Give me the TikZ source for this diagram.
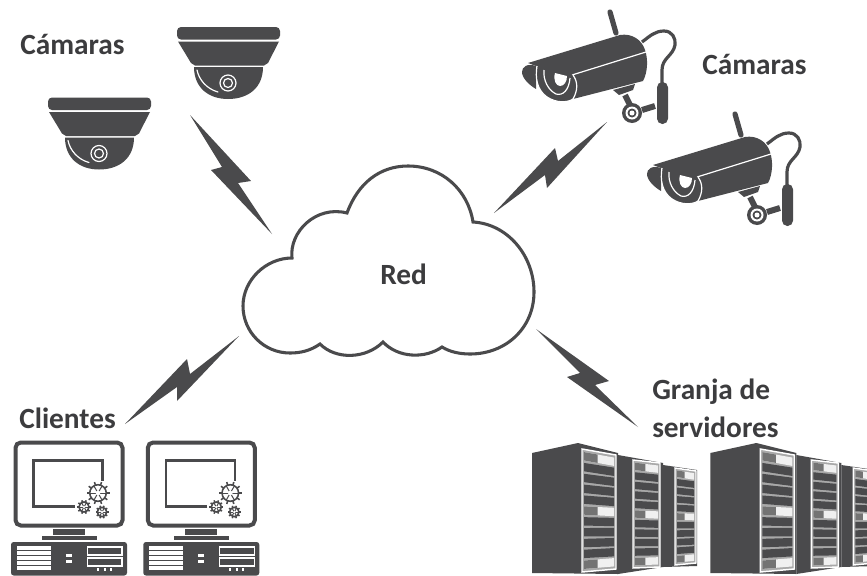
\documentclass[tikz,border=0pt]{standalone}
\usepackage{fontspec}
\setmainfont{Carlito}
\definecolor{ink}{HTML}{4A4A4C}
\definecolor{txt}{HTML}{3C3C3E}
\definecolor{panelgray}{HTML}{A8A8A8}
\newcommand{\gearicon}[3]{%
  \foreach \ga in {0,36,...,324}{\draw[ink,line width=1.15pt] (#1,#2) -- ++(\ga:#3);}
  \draw[ink,fill=white,line width=1.2pt] (#1,#2) circle[radius=0.72*#3];
  \foreach \ga in {0,60,...,300}{\draw[ink,line width=.75pt] (#1,#2) -- ++(\ga:0.72*#3);}
  \fill[white] (#1,#2) circle[radius=0.2*#3];
}
\newcommand{\rackpanel}[6]{%
  \fill[panelgray] (#1,#3) -- (#2,#4) -- (#2,#6) -- (#1,#5) -- cycle;
  \draw[white,line width=1.1pt] (#1,#3) -- (#2,#4) -- (#2,#6) -- (#1,#5) -- cycle;
  \foreach \ri in {0,...,10}{
    \pgfmathsetmacro{\tt}{(\ri+0.5)/11*0.97+0.015}
    \pgfmathsetmacro{\yl}{#3+\tt*(#5-#3)}
    \pgfmathsetmacro{\yr}{#4+\tt*(#6-#4)}
    \pgfmathsetmacro{\hh}{0.034*(#5-#3)}
    \pgfmathsetmacro{\xa}{#1+2}
    \pgfmathsetmacro{\xb}{#2-2}
    \pgfmathtruncatemacro{\rm}{mod(\ri,5)}
    \ifnum\rm=0
      \fill[white!88!gray] (\xa,\yl-\hh) -- (\xb,\yr-\hh) -- (\xb,\yr+\hh) -- (\xa,\yl+\hh) -- cycle;
      \fill[gray!90!black] (\xa,\yl-\hh) -- (\xa+0.45*\xb-0.45*\xa,\yl-\hh+0.45*\yr-0.45*\yl) -- (\xa+0.45*\xb-0.45*\xa,\yl+\hh+0.45*\yr-0.45*\yl) -- (\xa,\yl+\hh) -- cycle;
    \else
      \fill[ink] (\xa,\yl-\hh) -- (\xb,\yr-\hh) -- (\xb,\yr+\hh) -- (\xa,\yl+\hh) -- cycle;
    \fi
  }
}
\tikzset{
  label text/.style={font=\bfseries\fontsize{22pt}{26pt}\selectfont,text=txt,inner sep=0pt},
  bolt/.style={fill=ink,draw=none},
  pics/domecam/.style={code={
    \fill[ink,rounded corners=3pt] (177,39.5) -- (177,27) -- (280,27) -- (280,39.5) -- cycle;
    \fill[ink] (178,41.5) -- (279,41.5) -- (268,63) -- (264,65.5) -- (195,65.5) -- (191,63) -- cycle;
    \fill[ink] (194,67) -- (263,67) .. controls (263,88) and (248,99) .. (228,99) .. controls (209,99) and (194,88) .. (194,67) -- cycle;
    \draw[white,line width=.9pt,line cap=round] (197,70) .. controls (199,80) and (207,89) .. (218,92);
    \draw[white,line width=.9pt] (228,83) circle[radius=8];
    \draw[white,line width=.9pt] (228,83) circle[radius=4.5];
  }},
  pics/bulletcam/.style={code={
    \draw[ink,line width=3.9pt,line cap=round] (610,12) -- (616,33);
    \draw[ink,line width=2.4pt] (642,42) .. controls (650,36) and (655,31) .. (664,31) .. controls (672,31) and (676,38) .. (675,45) .. controls (673,56) and (662,58) .. (662,70) -- (662,84);
    \fill[ink,rounded corners=4pt] (657,82) -- (668,82) -- (668,124) -- (657,124) -- cycle;
    \fill[ink] (613,90) -- (635,84) -- (633,90) -- (619,95) -- cycle;
    \draw[ink,line width=4.5pt] (625,95) -- (630,105);
    \draw[ink,line width=4.5pt] (642,110) -- (655,106);
    \fill[ink] (632,113) circle[radius=10];
    \fill[white] (632,113) circle[radius=6.5];
    \fill[ink] (632,113) circle[radius=4.5];
    \fill[white] (632,113) circle[radius=2.5];
    % body
    \fill[ink] (528,63) -- (620,35) .. controls (632,33) and (642,40) .. (645,50) .. controls (648,58) and (648,72) .. (643,81) -- (573,99) -- (560,75) -- cycle;
    \draw[white,line width=.9pt] (572,75) -- (646,52);
    % hood
    \fill[ink] (536,66) .. controls (527,63) and (522,67) .. (522,72) .. controls (522,78) and (529,85) .. (536,89) -- cycle;
    % lens
    \fill[ink] (537,66) .. controls (535,78) and (537,90) .. (547,97) .. controls (556,103) and (567,103) .. (573,99) .. controls (578,90) and (578,82) .. (573,75) -- cycle;
    \draw[white,line width=.9pt] (537,66) .. controls (535,78) and (537,90) .. (547,97) .. controls (556,103) and (567,103) .. (573,99) .. controls (578,90) and (578,82) .. (573,75);
    \draw[white,line width=.9pt] (544,70) .. controls (543,80) and (548,90) .. (556,94) .. controls (563,96) and (569,90) .. (570,78);
    \fill[white] (555,73) .. controls (553,80) and (556,86) .. (560,86) .. controls (564,86) and (567,82) .. (567,76) -- cycle;
  }},
  pics/client/.style={code={
    \draw[ink,line width=3pt,rounded corners=4pt] (15.5,442.5) rectangle (122.5,525.5);
    \draw[ink,line width=1.6pt] (75,506.5) -- (33.5,506.5) -- (33.5,460.5) -- (102.5,460.5) -- (102.5,481);
    \gearicon{98}{493}{11.5}
    \gearicon{84}{507}{7}
    \gearicon{102}{512}{6.5}
    \fill[ink] (53,529) rectangle (85,535);
    \fill[ink] (42,536) rectangle (97,539.5);
    \fill[ink,rounded corners=2pt] (11,575.5) -- (11,542) -- (127,542) -- (127,575.5) -- cycle;
    \foreach \yy in {548,553,558,563,568}{\fill[white] (17,\yy-1.7) rectangle (51,\yy+1.7);}
    \fill[white] (66,554) rectangle (72,557);
    \fill[white] (66,560) rectangle (72,563);
    \draw[white,line width=.8pt,fill=ink] (87.5,547) rectangle (122,555);
    \draw[white,line width=.8pt,fill=ink] (87.5,558) rectangle (122,566);
    \foreach \xx in {98,105,111}{\fill[white] (\xx-1,568) rectangle (\xx+1,571);}
  }},
  pics/servers/.style={code={
    \fill[ink] (532,453) -- (578,443) -- (618,453) -- (618,574) -- (532,573) -- cycle;
    \fill[ink] (618,455) -- (663,463) -- (663,567) -- (618,574) -- cycle;
    \fill[ink] (663,465) -- (697,470) -- (697,566) -- (663,567) -- cycle;
    \rackpanel{582}{616}{449}{455}{572}{569}
    \rackpanel{633}{660}{460}{463}{568}{567}
    \rackpanel{675}{696}{468}{471}{565}{563}
  }}
}
\begin{document}
\begin{tikzpicture}[x=0.75pt,y=-0.75pt]
\path[use as bounding box,clip] (0,0) rectangle (867,575);
\fill[white] (0,0) rectangle (867,575);
% cameras
\pic (domeA) at (0,0) {domecam};
\pic (domeB) at (-129,70.5) {domecam};
\pic (bulletA) at (0,0) {bulletcam};
\pic (bulletB) at (125,102) {bulletcam};
% clients
\pic (clientA) at (0,0) {client};
\pic (clientB) at (132.3,0) {client};
% servers
\pic (serversA) at (0,0) {servers};
\pic (serversB) at (178.3,0) {servers};
% cloud
\draw[ink,line width=2.3pt,fill=white,line join=miter]
  (292,258) .. controls (289,232) and (316,205) .. (347,213)
  .. controls (358,183) and (380,166) .. (408,166)
  .. controls (442,166) and (468,190) .. (473,222)
  .. controls (508,224) and (534,256) .. (534,292)
  .. controls (534,328) and (506,354) .. (470,354)
  .. controls (460,354) and (450,352) .. (442,347)
  .. controls (425,359) and (398,358) .. (383,342)
  .. controls (366,359) and (336,360) .. (320,344)
  .. controls (310,351) and (300,353) .. (290,353)
  .. controls (264,353) and (243,332) .. (243,306)
  .. controls (243,280) and (266,258) .. (292,258) -- cycle;
% bolts
\fill[bolt] (190,115) -- (251,181) -- (238,183) -- (272,234) -- (211,170) -- (222,167) -- cycle;
\fill[bolt] (607,122) -- (558,161) -- (555,148) -- (494,213) -- (545,175) -- (547,188) -- cycle;
\fill[bolt] (239,336) -- (190,374) -- (187,359) -- (125,424) -- (177,387) -- (177,401) -- cycle;
\fill[bolt] (536,329) -- (609,381) -- (595,385) -- (638,427) -- (567,377) -- (580,373) -- cycle;
% labels
\node[label text,anchor=base west] (lblA) at (20,54) {Cámaras};
\node[label text,anchor=base west] (lblB) at (702,74) {Cámaras};
\node[label text,anchor=base west] (lblRed) at (380,284) {Red};
\node[label text,anchor=base west] (lblCli) at (19,428) {Clientes};
\node[label text,anchor=base west] (lblGr) at (652,399) {Granja de};
\node[label text,anchor=base west] (lblSe) at (652,437) {servidores};
\end{tikzpicture}
\end{document}
